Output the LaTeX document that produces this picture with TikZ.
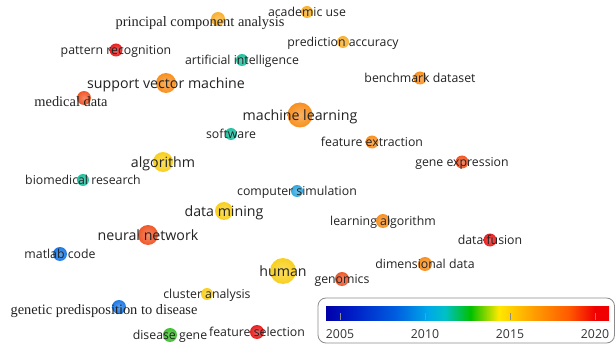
\documentclass[tikz,border=0pt]{standalone}
\usepackage{fontspec}
\setmainfont{Open Sans}
\newfontfamily\seriffont{Liberation Serif}
\definecolor{yrBlue}{HTML}{1E7AE6}
\definecolor{yrCyan}{HTML}{30A8E0}
\definecolor{yrTeal}{HTML}{22C0A0}
\definecolor{yrGreen}{HTML}{40C030}
\definecolor{yrYellow}{HTML}{F8D020}
\definecolor{yrAmber}{HTML}{F8B030}
\definecolor{yrOrange}{HTML}{F89020}
\definecolor{yrRedOr}{HTML}{F05828}
\definecolor{yrRed}{HTML}{E82020}
\definecolor{txt}{HTML}{222222}
\definecolor{sA}{HTML}{0000A8}
\definecolor{sB}{HTML}{0020C8}
\definecolor{sC}{HTML}{0060E0}
\definecolor{sD}{HTML}{00A8E8}
\definecolor{sE}{HTML}{00C0C8}
\definecolor{sF}{HTML}{00C000}
\definecolor{sG}{HTML}{FFE800}
\definecolor{sH}{HTML}{FFA000}
\definecolor{sI}{HTML}{FF5800}
\definecolor{sJ}{HTML}{F00000}
\pgfdeclarehorizontalshading{yearbar}{100bp}{color(0bp)=(sA); color(25bp)=(sA); color(30bp)=(sB); color(37.5bp)=(sC); color(43bp)=(sD); color(46bp)=(sE); color(50.5bp)=(sF); color(55.5bp)=(sG); color(61.5bp)=(sH); color(68bp)=(sI); color(72.5bp)=(sJ); color(75bp)=(sJ); color(100bp)=(sJ)}

\begin{document}
\begin{tikzpicture}[x=1pt,y=-1pt,
  dot/.style={circle,inner sep=0pt,draw=none,shading=radial,inner color=#1!70!white,outer color=#1},
  lab/.style={inner sep=0pt,text=txt,anchor=base,yshift=-4.2pt,font=\fontsize{12.3}{14}\selectfont},
  biglab/.style={lab,yshift=-1.5pt,font=\fontsize{14.2}{16}\selectfont},
  seriflab/.style={inner sep=0pt,text=txt,anchor=base,yshift=-3.4pt,font=\seriffont\fontsize{14.4}{16}\selectfont},
  yeartick/.style={draw=black!45,line width=0.6pt}]
\useasboundingbox (0,0) rectangle (616,350);

\node[dot=yrAmber,minimum size=12] (academic) at (307,12) {};
\node[lab] (academic-t) at (academic) {academic use};
\node[dot=yrAmber,minimum size=14] (pca) at (218,19) {};
\node[seriflab] (pca-t) at (200,23) {principal component analysis};
\node[dot=yrRed,minimum size=13] (patrec) at (116,50) {};
\node[lab] (patrec-t) at (patrec) {pattern recognition};
\node[dot=yrTeal,minimum size=12] (ai) at (242,60) {};
\node[lab] (ai-t) at (ai) {artificial intelligence};
\node[dot=yrAmber,minimum size=12] (predacc) at (343,42) {};
\node[lab] (predacc-t) at (predacc) {prediction accuracy};
\node[dot=yrOrange,minimum size=20] (svm) at (166,83) {};
\node[biglab] (svm-t) at (svm) {support vector machine};
\node[dot=yrRedOr,minimum size=14] (meddata) at (84,98) {};
\node[seriflab] (meddata-t) at (71,103) {medical data};
\node[dot=yrOrange,minimum size=13] (bench) at (420,78) {};
\node[lab] (bench-t) at (bench) {benchmark dataset};
\node[dot=yrOrange,minimum size=25] (ml) at (300,115) {};
\node[biglab] (ml-t) at (ml) {machine learning};
\node[dot=yrTeal,minimum size=12] (software) at (231,134) {};
\node[lab] (software-t) at (software) {software};
\node[dot=yrOrange,minimum size=13] (featext) at (372,142) {};
\node[lab] (featext-t) at (featext) {feature extraction};
\node[dot=yrYellow,minimum size=20] (algorithm) at (163,162) {};
\node[biglab] (algorithm-t) at (algorithm) {algorithm};
\node[dot=yrRedOr,minimum size=13] (geneexp) at (462,162) {};
\node[lab] (geneexp-t) at (geneexp) {gene expression};
\node[dot=yrTeal,minimum size=12] (biomed) at (83,180) {};
\node[lab] (biomed-t) at (biomed) {biomedical research};
\node[dot=yrCyan,minimum size=12] (compsim) at (297,191) {};
\node[lab] (compsim-t) at (compsim) {computer simulation};
\node[dot=yrYellow,minimum size=18] (datamining) at (224,211) {};
\node[biglab] (datamining-t) at (datamining) {data mining};
\node[dot=yrOrange,minimum size=14] (learnalg) at (383,221) {};
\node[lab] (learnalg-t) at (learnalg) {learning algorithm};
\node[dot=yrRedOr,minimum size=20] (neural) at (148,235) {};
\node[biglab] (neural-t) at (neural) {neural network};
\node[dot=yrRed,minimum size=13] (datafusion) at (490,240) {};
\node[lab] (datafusion-t) at (datafusion) {data fusion};
\node[dot=yrBlue,minimum size=14] (matlab) at (60,254) {};
\node[lab] (matlab-t) at (matlab) {matlab code};
\node[dot=yrOrange,minimum size=14] (dimdata) at (425,264) {};
\node[lab] (dimdata-t) at (dimdata) {dimensional data};
\node[dot=yrYellow,minimum size=26] (human) at (283,271) {};
\node[biglab] (human-t) at (human) {human};
\node[dot=yrRedOr,minimum size=14] (genomics) at (342,279) {};
\node[lab] (genomics-t) at (genomics) {genomics};
\node[dot=yrYellow,minimum size=12] (cluster) at (207,294) {};
\node[lab] (cluster-t) at (cluster) {cluster analysis};
\node[dot=yrBlue,minimum size=14] (genpred) at (119,307) {};
\node[seriflab] (genpred-t) at (104,311) {genetic predisposition to disease};
\node[dot=yrGreen,minimum size=14] (disgene) at (170,335) {};
\node[lab] (disgene-t) at (disgene) {disease gene};
\node[dot=yrRed,minimum size=14] (featsel) at (257,332) {};
\node[lab] (featsel-t) at (featsel) {feature selection};

% legend
\draw[black!45,line width=0.8pt,rounded corners=8] (318,298) rectangle (614.5,343);
\shade[shading=yearbar] (326,306) rectangle (609,320);
\foreach \yr/\xx in {2005/340,2010/425,2015/510,2020/595}{
  \draw[yeartick] (\xx,313) -- (\xx,320);
  \node[lab,text=black!80] (tick\yr) at (\xx,334) {\yr};
}
\end{tikzpicture}
\end{document}
